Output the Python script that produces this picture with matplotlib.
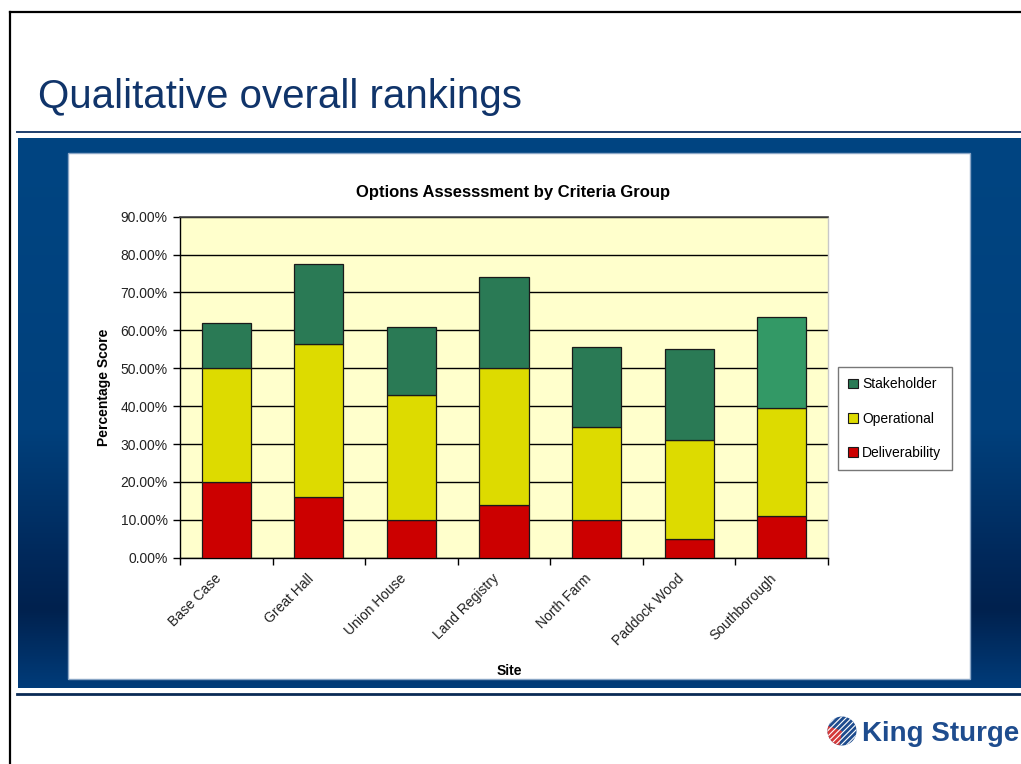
import numpy as np
import matplotlib
matplotlib.use("Agg")
import matplotlib.pyplot as plt
import matplotlib.transforms as mtransforms
from matplotlib.patches import Rectangle, Circle, Wedge, Patch
from matplotlib.ticker import FuncFormatter, MultipleLocator, FixedLocator

plt.rcParams['font.family'] = ['Liberation Sans', 'DejaVu Sans']

# data (percent)
sites = ['Base Case', 'Great Hall', 'Union House', 'Land Registry',
         'North Farm', 'Paddock Wood', 'Southborough']
deliverability = [20, 16, 10, 14, 10, 5, 11]
operational = [30, 40.5, 33, 36, 24.5, 26, 28.5]
stakeholder = [12, 21, 18, 24, 21, 24, 24]

c_del = '#CC0000'
c_op = '#DDDB00'
c_stk = '#2A7A55'
c_stk_hi = '#339966'

W, H = 1021, 764
fig = plt.figure(figsize=(W / 100, H / 100), dpi=100)

# slide decorations, drawn in pixel coordinates
bg = fig.add_axes([0, 0, 1, 1])
bg.set_xlim(0, W)
bg.set_ylim(H, 0)
bg.axis('off')

# blue gradient panel
ys = np.arange(138, 689)
stops_y = [138, 430, 560, 610, 688]
stops_rgb = np.array([[0, 69, 130], [0, 64, 124], [0, 40, 90], [0, 33, 78], [0, 60, 122]]) / 255
grad = np.stack([np.interp(ys, stops_y, stops_rgb[:, k]) for k in range(3)], axis=-1)
grad = grad[:, None, :]
bg.imshow(grad, extent=[18, W, 688, 138], aspect='auto', interpolation='bilinear')
bg.add_patch(Rectangle((68, 153), 902, 526, facecolor='white', edgecolor='#8AA6C6', lw=1))

# frame and rules
bg.plot([10, W], [12, 12], color='black', lw=1.6)
bg.plot([10, 10], [12, H], color='black', lw=1.6)
bg.plot([17, W], [132, 132], color='#1E3E6E', lw=1.4)
bg.plot([17, W], [694, 694], color='#0A2A55', lw=2.0)
bg.set_xlim(0, W)
bg.set_ylim(H, 0)

bg.text(38, 108, 'Qualitative overall rankings', fontsize=29, color='#10346A',
        ha='left', va='baseline')

# King Sturge logo
cx, cy, r = 842, 731, 14.5
circ = Circle((cx, cy), r, facecolor='#1E4C8E', edgecolor='none')
bg.add_patch(circ)
bg.add_patch(Wedge((cx, cy), r, 100, 200, facecolor='#D43A3A', edgecolor='none'))
for off in np.arange(-20, 22, 5.5):
    ln, = bg.plot([cx - 20 + off, cx + 20 + off], [cy + 20, cy - 20], color='white', lw=0.8)
    ln.set_clip_path(circ)
bg.text(862, 734, 'King Sturge', fontsize=20, fontweight='bold', color='#1E4C8E',
        ha='left', va='center')

# chart
ax = fig.add_axes([180 / W, 1 - 557.7 / H, 648 / W, 341 / H])
ax.set_facecolor('#FFFFCC')
x = np.arange(len(sites))
bw = 0.53
ekw = dict(edgecolor='#1a1a1a', linewidth=0.9, zorder=3)
bot2 = np.array(deliverability) + np.array(operational)
ax.bar(x, deliverability, bw, color=c_del, label='Deliverability', **ekw)
ax.bar(x, operational, bw, bottom=deliverability, color=c_op, label='Operational', **ekw)
stk = ax.bar(x, stakeholder, bw, bottom=bot2, color=c_stk, label='Stakeholder', **ekw)
stk[-1].set_facecolor(c_stk_hi)

ax.set_xlim(-0.5, len(sites) - 0.5)
ax.set_ylim(0, 90)
ax.yaxis.set_major_locator(MultipleLocator(10))
ax.yaxis.set_major_formatter(FuncFormatter(lambda v, p: f'{v:.2f}%'))
ax.grid(axis='y', color='black', lw=1.0, zorder=1)
ax.set_axisbelow(True)
ax.tick_params(axis='y', direction='out', length=5, width=1, labelsize=10,
               labelcolor='#222222', pad=4)

ax.set_xticks(x)
ax.set_xticklabels(sites, rotation=45, ha='right', va='top', rotation_mode='anchor',
                   fontsize=10, color='#222222')
ax.tick_params(axis='x', which='major', length=0, pad=10)
shift = mtransforms.ScaledTranslation(-12 / 100, 0, fig.dpi_scale_trans)
for lbl in ax.get_xticklabels():
    lbl.set_transform(lbl.get_transform() + shift)
ax.xaxis.set_minor_locator(FixedLocator(np.arange(-0.5, len(sites), 1)))
ax.tick_params(axis='x', which='minor', length=5, width=1, direction='out')

for s in ['left', 'bottom']:
    ax.spines[s].set_color('black')
    ax.spines[s].set_linewidth(1.0)
ax.spines['top'].set_color('#444444')
ax.spines['top'].set_linewidth(1.2)
ax.spines['right'].set_color('#C8C8C8')
ax.spines['right'].set_linewidth(1.0)

ax.set_ylabel('Percentage Score', fontsize=10, fontweight='bold')
ax.yaxis.set_label_coords(-0.107, 0.5)
ax.set_xlabel('Site', fontsize=10, fontweight='bold')
ax.xaxis.set_label_coords(0.508, -0.312)

fig.text(513 / W, 1 - 193 / H, 'Options Assesssment by Criteria Group',
         fontsize=12, fontweight='bold', ha='center', va='center')

handles = [Patch(facecolor=c_stk, edgecolor='#1a1a1a', lw=0.8),
           Patch(facecolor=c_op, edgecolor='#1a1a1a', lw=0.8),
           Patch(facecolor=c_del, edgecolor='#1a1a1a', lw=0.8)]
leg = fig.legend(handles, ['Stakeholder', 'Operational', 'Deliverability'],
                 loc='center left', bbox_to_anchor=(838 / W, 1 - 418.5 / H),
                 fontsize=10, frameon=True, fancybox=False, edgecolor='#555555',
                 handlelength=0.7, handleheight=0.7, handletextpad=0.3,
                 labelspacing=1.45, borderpad=0.75, borderaxespad=0)
leg.get_frame().set_linewidth(1.0)

fig.savefig('out.png', dpi=100)
